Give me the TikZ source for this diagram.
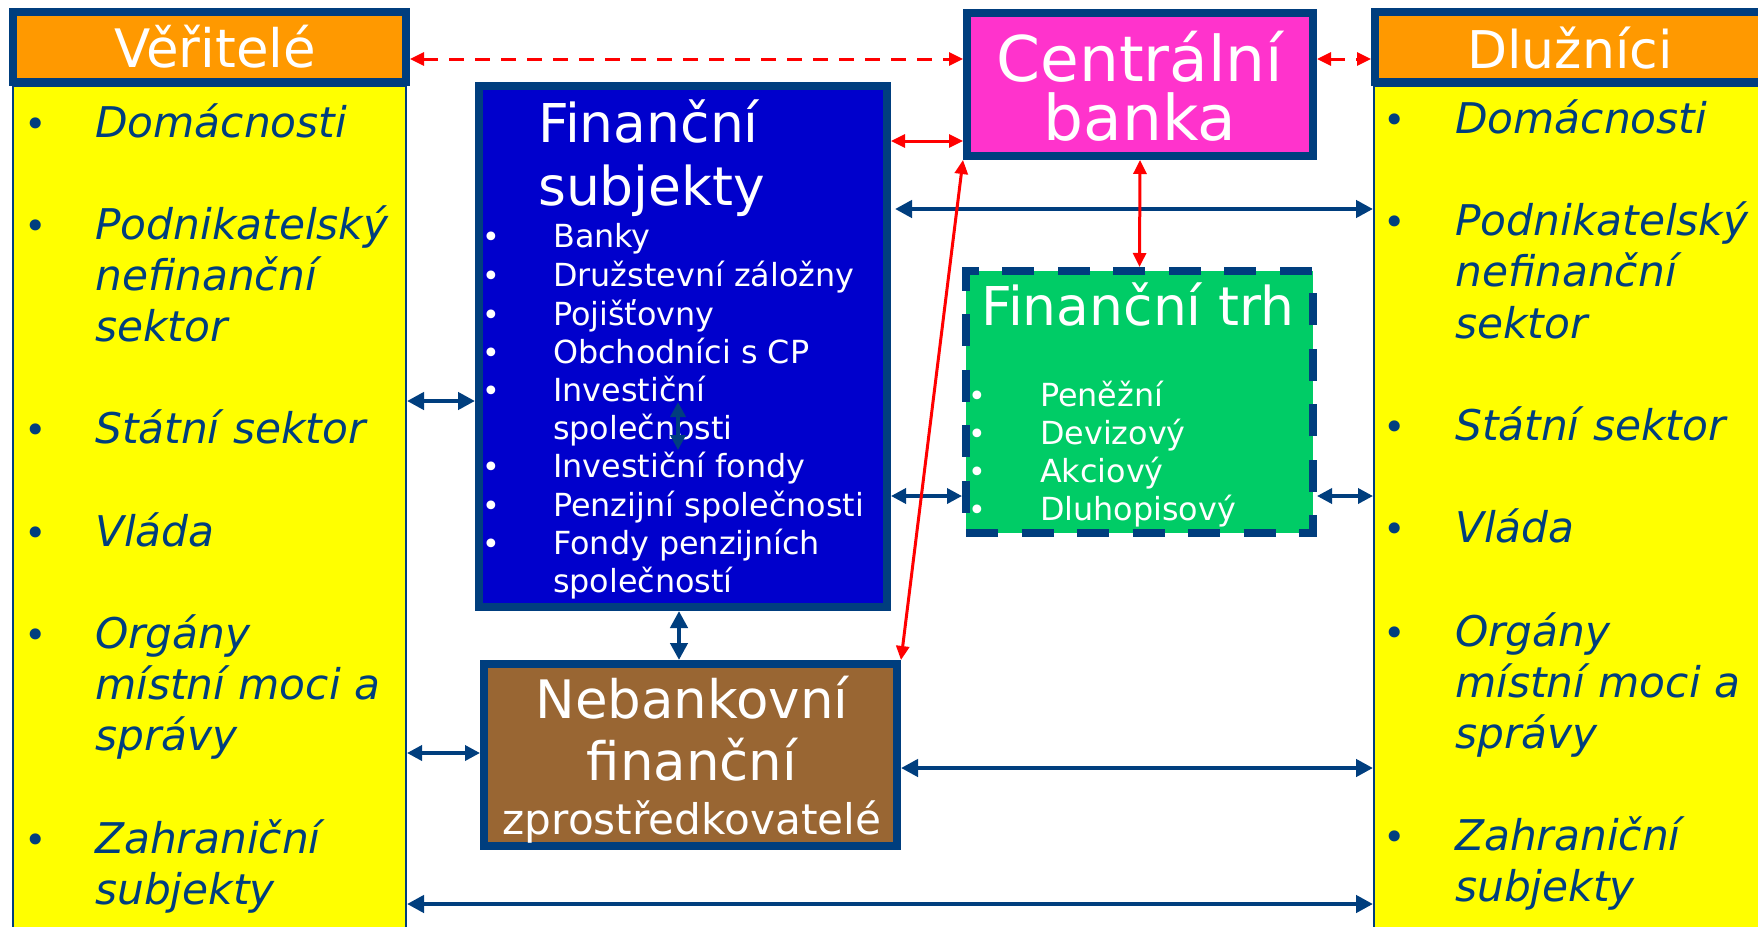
\documentclass[tikz,border=0pt]{standalone}
\usepackage{fontspec}
\setmainfont{DejaVu Sans}
\usetikzlibrary{arrows.meta}
\definecolor{dkblue}{HTML}{003E7E}
\definecolor{orng}{HTML}{FF9900}
\definecolor{ylw}{HTML}{FFFF00}
\definecolor{fsblue}{HTML}{0000CC}
\definecolor{cbpink}{HTML}{FF33CC}
\definecolor{grn}{HTML}{00CC66}
\definecolor{brn}{HTML}{996633}
\definecolor{rd}{HTML}{FF0000}
\begin{document}
\begin{tikzpicture}[x=1pt,y=-1pt,
  thickbox/.style={rectangle, draw=dkblue, line width=8pt, inner sep=0pt},
  colbox/.style={rectangle, draw=dkblue, line width=2pt, fill=ylw, inner sep=0pt},
  dashbox/.style={rectangle, draw=dkblue, line width=8pt, inner sep=0pt, dash pattern=on 32pt off 23.5pt},
  barr/.style={draw=dkblue, line width=4.5pt, {Triangle[length=17pt,width=17pt]}-{Triangle[length=17pt,width=17pt]}},
  barrs/.style={draw=dkblue, line width=3.5pt, {Triangle[length=15pt,width=15pt]}-{Triangle[length=15pt,width=15pt]}},
  rarr/.style={draw=rd, line width=3pt, {Triangle[length=14pt,width=13pt]}-{Triangle[length=14pt,width=13pt]}},
  rdash/.style={rarr, dash pattern=on 15pt off 11pt},
  itm/.style={anchor=base west, inner sep=0pt, text=dkblue, font=\fontsize{42.3}{49}\selectfont\itshape},
  bul/.style={anchor=base, inner sep=0pt, text=dkblue, font=\fontsize{38}{49}\selectfont},
  wtitle/.style={inner sep=0pt, text=white, font=\fontsize{53.5}{60}\selectfont},
  witm/.style={anchor=base west, inner sep=0pt, text=white, font=\fontsize{31.8}{37}\selectfont},
  wbul/.style={anchor=base, inner sep=0pt, text=white, font=\fontsize{30}{37}\selectfont}]
\useasboundingbox (0,0) rectangle (1758,926);
\fill[white] (0,0) rectangle (1758,926);
\clip (0,0) rectangle (1758,926);

% columns
\node[colbox, minimum width=393pt, minimum height=864pt] (ly) at (209.5,518) {};
\node[colbox, minimum width=406pt, minimum height=864pt] (ry) at (1577,518) {};
\node[thickbox, fill=orng, minimum width=393pt, minimum height=70pt] (vh) at (209.5,47) {};
\node[thickbox, fill=orng, minimum width=400pt, minimum height=70pt] (dh) at (1575,47) {};

% central boxes
\node[thickbox, fill=cbpink, minimum width=346pt, minimum height=143pt] (cb) at (1140,84.5) {};
\node[thickbox, fill=fsblue, minimum width=408pt, minimum height=521pt] (fs) at (683,346.5) {};
\node[rectangle, fill=grn, minimum width=347pt, minimum height=262pt, inner sep=0pt] (ftfill) at (1139.5,402) {};
\node[dashbox, minimum width=347pt, minimum height=262pt] (ft) at (1139.5,402) {};
\node[thickbox, fill=brn, minimum width=413pt, minimum height=182pt] (neb) at (690.5,755) {};

% header texts
\node[wtitle, anchor=base, font=\fontsize{53}{60}\selectfont] (vhT) at (215,67) {Věřitelé};
\node[wtitle, anchor=base, font=\fontsize{52}{60}\selectfont] (dhT) at (1570,68) {Dlužníci};
\node[wtitle, anchor=base, font=\fontsize{63}{60}\selectfont] (cbT1) at (1140,81) {Centrální};
\node[wtitle, anchor=base, font=\fontsize{63}{60}\selectfont] (cbT2) at (1140,140) {banka};
\node[wtitle, anchor=base west] (fsT1) at (538,142) {Finanční};
\node[wtitle, anchor=base west] (fsT2) at (538,205) {subjekty};
\node[wtitle, anchor=base west] (ftT) at (981,325) {Finanční trh};
\node[wtitle, anchor=base, font=\fontsize{53}{60}\selectfont] (nbT1) at (692,718) {Nebankovní};
\node[wtitle, anchor=base, font=\fontsize{53}{60}\selectfont] (nbT2) at (692,780) {finanční};
\node[wtitle, anchor=base, font=\fontsize{42.2}{50}\selectfont] (nbT3) at (692,834) {zprostředkovatelé};

% left column items
\foreach \t/\yy/\n in {Domácnosti/137/a, Podnikatelský/239/b, nefinanční/290/c, sektor/341/d, Státní sektor/443/e, Vláda/546/f, Orgány/648/g, místní moci a/699/h, správy/750/i, Zahraniční/853/j, subjekty/904/k}
  \node[itm] (L\n) at (95,\yy) {\t};
\foreach \yy/\n in {137/a, 239/b, 443/e, 546/f, 648/g, 853/j}
  \node[bul] (LB\n) at (36,\yy) {•};
% right column items
\foreach \t/\yy/\n in {Domácnosti/133/a, Podnikatelský/235/b, nefinanční/286/c, sektor/338/d, Státní sektor/440/e, Vláda/542/f, Orgány/646/g, místní moci a/697/h, správy/748/i, Zahraniční/850/j, subjekty/901/k}
  \node[itm] (R\n) at (1455,\yy) {\t};
\foreach \yy/\n in {133/a, 235/b, 440/e, 542/f, 646/g, 850/j}
  \node[bul] (RB\n) at (1395,\yy) {•};

% financial subjects items
\foreach \t/\yy/\n in {Banky/247/a, Družstevní záložny/286/b, Pojišťovny/325/c, Obchodníci s CP/363/d, Investiční/401/e, společnosti/439/f, Investiční fondy/477/g, Penzijní společnosti/516/h, Fondy penzijních/554/i, společností/592/j}
  \node[witm] (F\n) at (553,\yy) {\t};
\foreach \yy/\n in {247/a, 286/b, 325/c, 363/d, 401/e, 477/g, 516/h, 554/i}
  \node[wbul] (FB\n) at (491,\yy) {•};

% market items
\foreach \t/\yy/\n in {Peněžní/406/a, Devizový/444/b, Akciový/482/c, Dluhopisový/520/d}
  \node[witm] (M\n) at (1040,\yy) {\t};
\foreach \yy/\n in {406/a, 444/b, 482/c, 520/d}
  \node[wbul] (MB\n) at (977,\yy) {•};

% level coordinates
\coordinate (h59) at (0,59);
\coordinate (h141) at (0,141);
\coordinate (h209) at (0,209);
\coordinate (h401) at (0,401);
\coordinate (h496) at (0,496);
\coordinate (h753) at (0,753);
\coordinate (h768) at (0,768);
\coordinate (h904) at (0,904);
\coordinate (v679) at (679,0);
\coordinate (fsr) at ([xshift=4pt]fs.east);
\coordinate (sa) at (678,402);
\coordinate (sb) at (678,450);

% blue connectors
\draw[barr] (fsr |- h209) -- (ry.west |- h209);
\draw[barr] (ly.east |- h401) -- (fs.west |- h401);
\draw[barrs] (fs.east |- h496) -- (ft.west |- h496);
\draw[barrs] (ft.east |- h496) -- (ry.west |- h496);
\draw[barr] (fs.south -| v679) -- (neb.north -| v679);
\draw[barrs] (ly.east |- h753) -- (neb.west |- h753);
\draw[barr] (neb.east |- h768) -- (ry.west |- h768);
\draw[barr] (ly.east |- h904) -- (ry.west |- h904);
\draw[barrs] (sa) -- (sb);

% red connectors
\draw[rdash] (vh.east |- h59) -- (cb.west |- h59);
\draw[rdash] (cb.east |- h59) -- (dh.west |- h59);
\draw[rarr] (fs.east |- h141) -- (cb.west |- h141);
\draw[rarr] (cb.south) -- (ft.north);
\draw[rarr] (cb.south west) -- (neb.north east);
\end{tikzpicture}
\end{document}
